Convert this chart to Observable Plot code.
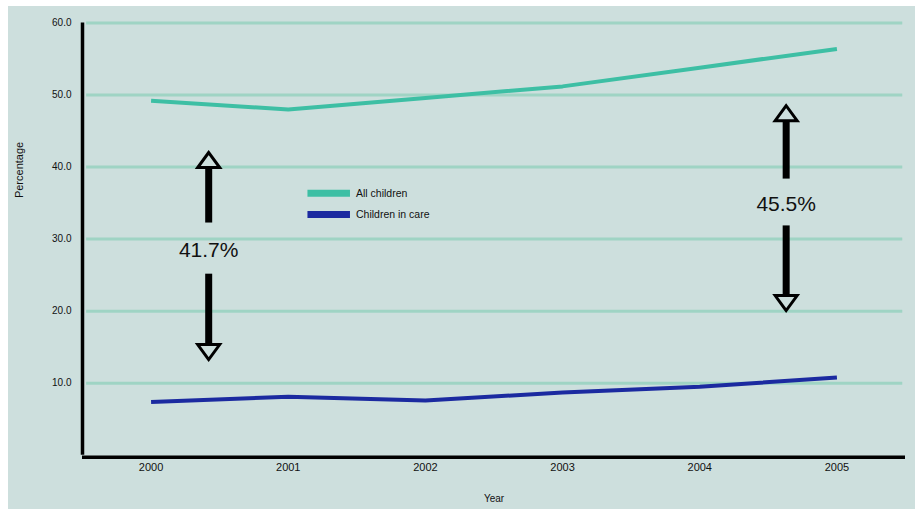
<!DOCTYPE html>
<html><head><meta charset="utf-8">
<script src="https://cdn.jsdelivr.net/npm/d3@7"></script>
<script src="https://cdn.jsdelivr.net/npm/@observablehq/plot@0.6"></script>
<style>
html,body{margin:0;padding:0;background:#fff;}
#chart{position:absolute;left:8px;top:6px;}
</style></head><body><div id="chart"></div>
<script>
// ---- data ----
const years = [2000, 2001, 2002, 2003, 2004, 2005];
const allChildren = [49.2, 48.0, 49.6, 51.2, 53.8, 56.4];
const childrenInCare = [7.4, 8.1, 7.6, 8.7, 9.5, 10.8];
const yTicks = [10, 20, 30, 40, 50, 60];
const seriesNames = ["All children", "Children in care"];
// gap annotations (data units)
const gapLabels = ["41.7%", "45.5%"];
const gapX = [2000.42, 2004.63];
const gapTopTip = [42.3, 48.8];
const gapUpperShaftEnd = [32.3, 38.4];
const gapLabelY = [28.4, 34.9];
const gapLowerShaftStart = [25.2, 31.9];
const gapBottomTip = [13.0, 19.8];
// legend placement (data units)
const legendX = [2001.14, 2001.45];
const legendY = [36.35, 33.4];

// ---- derived tables ----
const BG = "#cddfdd";
const colors = ["#3dbfa4", "#1b2aa0"];
const lineData = [
  ...years.map((y, i) => ({year: y, value: allChildren[i], series: seriesNames[0]})),
  ...years.map((y, i) => ({year: y, value: childrenInCare[i], series: seriesNames[1]}))
];
const gaps = gapLabels.map((t, i) => ({
  label: t, x: gapX[i], top: gapTopTip[i], upEnd: gapUpperShaftEnd[i],
  ly: gapLabelY[i], lowStart: gapLowerShaftStart[i], bottom: gapBottomTip[i]
}));
const legend = seriesNames.map((s, i) => ({series: s, y: legendY[i]}));

const upHead = {draw(ctx) { ctx.moveTo(0, 0); ctx.lineTo(-11, 15); ctx.lineTo(11, 15); ctx.closePath(); }};
const downHead = {draw(ctx) { ctx.moveTo(0, 0); ctx.lineTo(-11, -15); ctx.lineTo(11, -15); ctx.closePath(); }};

const chart = Plot.plot({
  width: 907,
  height: 503,
  marginLeft: 74,
  marginRight: 10,
  marginTop: 16.5,
  marginBottom: 54.3,
  style: {background: BG, fontFamily: "Liberation Sans, Arial, sans-serif", color: "#111"},
  x: {domain: [1999.5, 2005.5]},
  y: {domain: [0, 60]},
  color: {domain: seriesNames, range: colors},
  marks: [
    Plot.ruleY(yTicks, {x1: 1999.53, x2: 2005.48, stroke: "#9fd4c4", strokeWidth: 3}),
    Plot.axisY(yTicks, {tickSize: 0, tickPadding: 11, tickFormat: d => d.toFixed(1), fontSize: 10, label: null}),
    Plot.axisX(years, {tickSize: 0, tickPadding: 8, tickFormat: d => String(d), fontSize: 11, label: null}),
    Plot.text(["Year"], {frameAnchor: "bottom", dy: 47, fontSize: 10, fill: "#111"}),
    Plot.text(["Percentage"], {frameAnchor: "left", dx: -63, dy: -41, rotate: -90, fontSize: 11, fill: "#111"}),
    Plot.line(lineData, {x: "year", y: "value", stroke: "series", strokeWidth: 4, strokeLinejoin: "round", strokeLinecap: "butt"}),
    Plot.ruleX([1999.5], {y1: 0, y2: 60, stroke: "#000", strokeWidth: 3.5}),
    Plot.ruleY([0], {x1: 1999.5, x2: 2005.5, stroke: "#000", strokeWidth: 3.5, dy: 2}),
    // legend
    Plot.link(legend, {x1: legendX[0], x2: legendX[1], y1: "y", y2: "y", stroke: "series", strokeWidth: 7}),
    Plot.text(legend, {x: legendX[1], y: "y", text: "series", dx: 6, textAnchor: "start", fontSize: 10.5, fill: "#111"}),
    // gap arrows: shafts end inside the hollow heads
    Plot.link(gaps, {x1: "x", x2: "x", y1: "upEnd", y2: d => d.top - 2.0, stroke: "#000", strokeWidth: 7}),
    Plot.link(gaps, {x1: "x", x2: "x", y1: "lowStart", y2: d => d.bottom + 2.0, stroke: "#000", strokeWidth: 7}),
    Plot.dot(gaps, {x: "x", y: "top", symbol: upHead, fill: BG, stroke: "#000", strokeWidth: 3, dy: 2}),
    Plot.dot(gaps, {x: "x", y: "bottom", symbol: downHead, fill: BG, stroke: "#000", strokeWidth: 3, dy: -2}),
    Plot.text(gaps, {x: "x", y: "ly", text: "label", fontSize: 21, fill: "#111"})
  ]
});
document.getElementById("chart").appendChild(chart);
</script></body></html>
